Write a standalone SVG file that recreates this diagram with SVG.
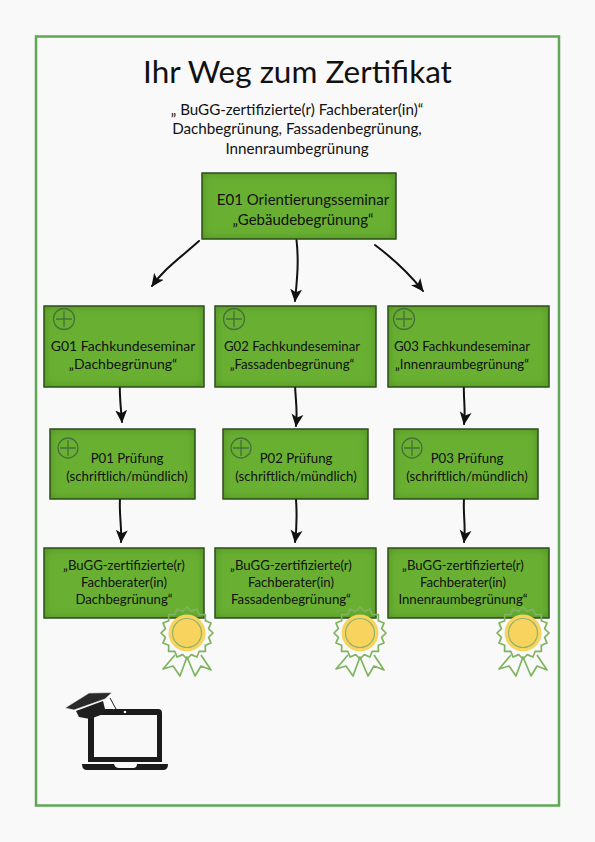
<svg xmlns="http://www.w3.org/2000/svg" width="595" height="842" viewBox="0 0 595 842">
<style>
text{font-family:"Lato","Open Sans","Liberation Sans",sans-serif;fill:#111;text-anchor:middle}
.b{fill:#69b032;stroke:#111c0a;stroke-width:1.2;filter:url(#rough)}
.t{font-size:14px}
.s{font-size:13.2px}
.h{font-size:15.2px}
.c{fill:none;stroke:#111;stroke-width:2;stroke-linecap:round;marker-end:url(#ah)}
.p{fill:none;stroke:#47703a;stroke-width:1.3}
.r{fill:none;stroke:#7fb35f;stroke-width:1.7;stroke-linejoin:round}
</style>
<defs>
<filter id="rough" x="-10%" y="-15%" width="120%" height="130%" color-interpolation-filters="sRGB">
<feFlood flood-color="#3d7a1a" flood-opacity="0.75"/>
<feComposite in2="SourceAlpha" operator="out"/>
<feGaussianBlur stdDeviation="5"/>
<feComposite in2="SourceAlpha" operator="in" result="s"/>
<feMerge result="m"><feMergeNode in="SourceGraphic"/><feMergeNode in="s"/></feMerge>
<feTurbulence type="fractalNoise" baseFrequency="0.03" numOctaves="1" seed="4" result="n"/>
<feDisplacementMap in="m" in2="n" scale="1.500" xChannelSelector="R" yChannelSelector="G"/>
</filter>
<marker id="ah" viewBox="0 0 12 12" refX="11" refY="6" markerWidth="13" markerHeight="13" markerUnits="userSpaceOnUse" orient="auto">
<path d="M0 0.5L12 6L0 11.5L3 6Z" fill="#111"/>
</marker>
<g id="ros">
<circle r="18.5" fill="#f8d35e"/>
<circle r="14.5" fill="none" stroke="#8fb56a" stroke-width="1.2"/>
<polygon class="r" points="26,0 21.6,4.3 24,9.95 18.3,12.2 18.4,18.4 12.2,18.3 9.95,24 4.3,21.6 0,26 -4.3,21.6 -9.95,24 -12.2,18.3 -18.4,18.4 -18.3,12.2 -24,9.95 -21.6,4.3 -26,0 -21.6,-4.3 -24,-9.95 -18.3,-12.2 -18.4,-18.4 -12.2,-18.3 -9.95,-24 -4.3,-21.6 0,-26 4.3,-21.6 9.95,-24 12.2,-18.3 18.4,-18.4 18.3,-12.2 24,-9.95 21.6,-4.3"/>
<path class="r" d="M-12 22L-24 36L-14 33L-7 43L0 24L8 43L14 33L24 37L14 22"/>
</g>
</defs>
<rect width="595" height="842" fill="#f9f9f9"/>
<rect x="36" y="36.500" width="523" height="769" fill="none" stroke="#5fa755" stroke-width="2.500"/>
<text x="297.500" y="83" font-size="31.500">Ihr Weg zum Zertifikat</text>
<text x="297" y="115" class="h">„ BuGG-zertifizierte(r) Fachberater(in)“</text>
<text x="297" y="134" class="h">Dachbegrünung, Fassadenbegrünung,</text>
<text x="297" y="154" class="h">Innenraumbegrünung</text>
<g id="connectors">
<path class="c" d="M199 241C180 258 165 268 152 286"/>
<path class="c" d="M296.500 240C299 262 297 280 295 301"/>
<path class="c" d="M375 245C395 260 408 272 423 291"/>
<path class="c" d="M120 379C119 395 121 408 122 422"/>
<path class="c" d="M295 381C295 398 298 410 296 426"/>
<path class="c" d="M464 381C463 398 466 410 464 424"/>
<path class="c" d="M120 499C119 515 122 527 121 542"/>
<path class="c" d="M296 499C297 515 297 527 295 542"/>
<path class="c" d="M464 499C463 515 466 527 464 542"/>
</g>
<g id="E01"><rect class="b" x="202" y="173" width="194" height="66"/><text x="303" y="205" font-size="15">E01 Orientierungsseminar</text><text x="303" y="225" font-size="15">„Gebäudebegrünung“</text></g>
<g id="G01"><rect class="b" x="44" y="306" width="160" height="81"/><circle class="p" cx="64" cy="319" r="10.500"/><path class="p" d="M64 311V327M56 319H72"/><text x="123" y="351" class="t">G01 Fachkundeseminar</text><text x="123" y="369" class="t">„Dachbegrünung“</text></g>
<g id="G02"><rect class="b" x="215" y="306" width="161" height="81"/><circle class="p" cx="234" cy="319" r="10.500"/><path class="p" d="M234 311V327M226 319H242"/><text x="292" y="351" class="s">G02 Fachkundeseminar</text><text x="292" y="369" class="s">„Fassadenbegrünung“</text></g>
<g id="G03"><rect class="b" x="388" y="306" width="161" height="81"/><circle class="p" cx="404" cy="319" r="10.500"/><path class="p" d="M404 311V327M396 319H412"/><text x="462" y="351" class="s">G03 Fachkundeseminar</text><text x="462" y="369" class="s">„Innenraumbegrünung“</text></g>
<g id="P01"><rect class="b" x="50" y="429" width="145" height="70"/><circle class="p" cx="68" cy="448" r="10"/><path class="p" d="M68 440V456M60 448H76"/><text x="127" y="463" class="s">P01 Prüfung</text><text x="127" y="481" class="s">(schriftlich/mündlich)</text></g>
<g id="P02"><rect class="b" x="223" y="429" width="145" height="70"/><circle class="p" cx="241" cy="448" r="10"/><path class="p" d="M241 440V456M233 448H249"/><text x="296" y="463" class="s">P02 Prüfung</text><text x="296" y="481" class="s">(schriftlich/mündlich)</text></g>
<g id="P03"><rect class="b" x="394" y="429" width="144" height="70"/><circle class="p" cx="412" cy="448" r="10"/><path class="p" d="M412 440V456M404 448H420"/><text x="467" y="463" class="s">P03 Prüfung</text><text x="467" y="481" class="s">(schriftlich/mündlich)</text></g>
<g id="C1"><rect class="b" x="44" y="548" width="160" height="70"/><text x="124" y="570" class="s">„BuGG-zertifizierte(r)</text><text x="124" y="587" class="s">Fachberater(in)</text><text x="124" y="604" class="s">Dachbegrünung“</text></g>
<g id="C2"><rect class="b" x="215" y="548" width="161" height="70"/><text x="291" y="570" class="s">„BuGG-zertifizierte(r)</text><text x="291" y="587" class="s">Fachberater(in)</text><text x="291" y="604" class="s">Fassadenbegrünung“</text></g>
<g id="C3"><rect class="b" x="388" y="548" width="161" height="70"/><text x="463" y="570" class="s">„BuGG-zertifizierte(r)</text><text x="463" y="587" class="s">Fachberater(in)</text><text x="463" y="604" class="s">Innenraumbegrünung“</text></g>
<use href="#ros" x="187" y="633"/>
<use href="#ros" x="360" y="633"/>
<use href="#ros" x="523" y="633"/>
<g id="laptop">
<path fill="#1b1b1b" fill-rule="evenodd" d="M92 709H158Q162 709 162 713V762H88V713Q88 709 92 709ZM94 715V757H157V715Z"/>
<path fill="#1b1b1b" d="M82 764H114Q115 768 119 768H133Q137 768 137 764H168Q168 770 163 770H87Q82 770 82 764Z"/>
<circle cx="125" cy="712" r="1.300" fill="#fff"/>
<path fill="#2a2a2a" stroke="#f9f9f9" stroke-width="0.600" d="M65 708L89 693L112 692.500L105 699L74 710Z"/>
<path fill="#1f1f1f" d="M76 711L103 701L106 713L90 719L79 717Z"/>
<path d="M108 699L114 709" stroke="#fff" stroke-width="1.500"/>
<path d="M110 698L116 709" stroke="#222" stroke-width="1"/>
</g>
</svg>
